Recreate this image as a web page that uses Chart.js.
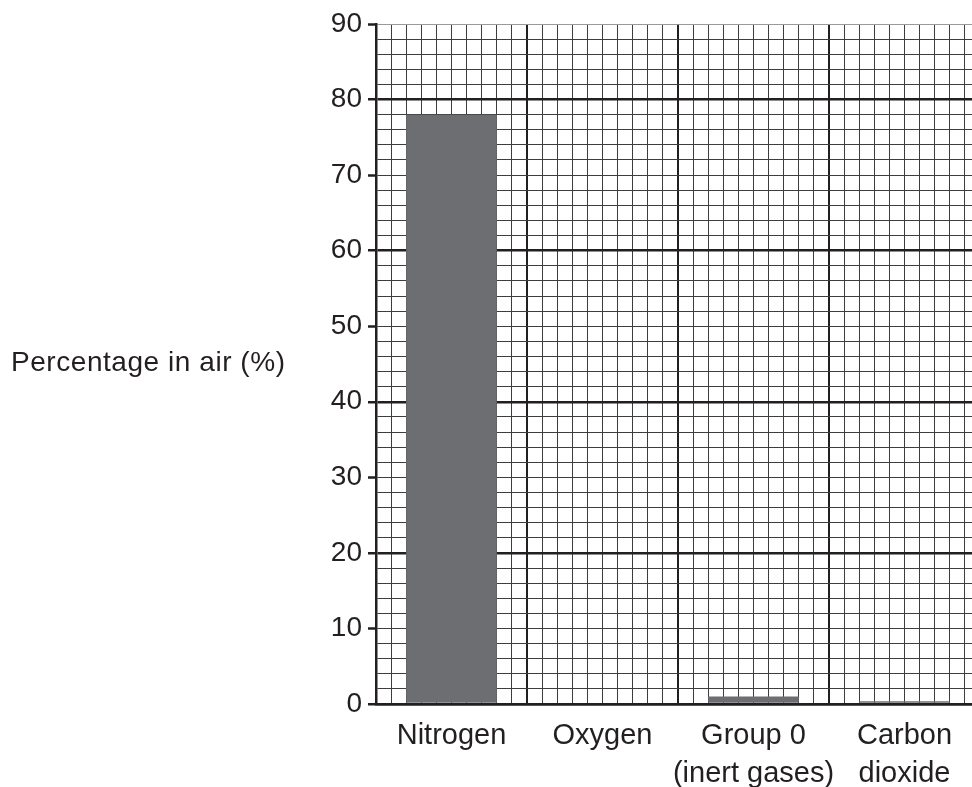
<!DOCTYPE html>
<html lang="en">
<head>
    <script src="https://cdn.jsdelivr.net/npm/chart.js"></script>
    <title>Percentage in air</title>
    <style>
        html, body {
            margin: 0;
            padding: 0;
            background: white;
            overflow: hidden;
        }
        .wrap {
            position: relative;
            width: 972px;
            height: 787px;
            overflow: hidden;
        }
        #chart {
            position: absolute;
            left: 0;
            top: 0;
        }
        #ylabel {
            position: absolute;
            left: 11px;
            top: 346px;
            font-family: "Liberation Sans", Arial, sans-serif;
            font-size: 28px;
            letter-spacing: 0.55px;
            color: #231f20;
            white-space: nowrap;
        }
    </style>
</head>
<body>
    <div class="wrap">
        <canvas id="chart" width="990" height="787"></canvas>
        <div id="ylabel">Percentage in air (%)</div>
    </div>
    <script>
        var gases = [["Nitrogen"], ["Oxygen"], ["Group 0", "(inert gases)"], ["Carbon", "dioxide"]];
        var percentages = [78, 0, 1, 0.35];

        var yMin = 0, yMax = 90, yStep = 2;
        var squaresPerGas = 10;

        var ink = "#231f20";
        var minorInk = "#3d3d3d";
        var fontFamily = "'Liberation Sans', Arial, sans-serif";

        // border context has no tick, so guard it
        function tv(c) { return c.tick ? c.tick.value : -1; }

        var ctx = document.getElementById("chart").getContext("2d");

        var chart = new Chart(ctx, {
            type: "bar",
            data: {
                labels: gases,
                datasets: [{
                    data: percentages,
                    backgroundColor: "#6d6e71",
                    borderWidth: 0,
                    barPercentage: 0.6,
                    categoryPercentage: 1
                }]
            },
            options: {
                responsive: false,
                animation: false,
                devicePixelRatio: 1,
                layout: { padding: { left: 0, right: 10, top: 24, bottom: 0 } },
                plugins: {
                    legend: { display: false },
                    tooltip: { enabled: false }
                },
                scales: {
                    x: {
                        type: "category",
                        position: "bottom",
                        grid: { display: false, drawTicks: false },
                        border: { display: true, color: ink, width: 2.5 },
                        ticks: {
                            color: ink,
                            font: { family: fontFamily, size: 29, lineHeight: 1.3 },
                            padding: 13,
                            maxRotation: 0,
                            autoSkip: false
                        },
                        afterFit: function(s) { s.height = 83; }
                    },
                    // graph paper columns: 10 small squares per gas
                    x2: {
                        type: "linear",
                        position: "top",
                        offset: false,
                        min: 0,
                        max: gases.length * squaresPerGas,
                        ticks: { display: false, stepSize: 1, autoSkip: false, maxTicksLimit: 200 },
                        border: { display: false },
                        grid: {
                            offset: false,
                            drawTicks: false,
                            color: function(c) {
                                return tv(c) % squaresPerGas === 0 ? ink : minorInk;
                            },
                            lineWidth: function(c) {
                                return tv(c) % squaresPerGas === 0 ? 2 : 1;
                            }
                        },
                        afterFit: function(s) { s.height = 0; }
                    },
                    y: {
                        type: "linear",
                        min: yMin,
                        max: yMax,
                        border: { display: true, color: ink, width: 2.5 },
                        grid: {
                            drawTicks: true,
                            tickLength: 8,
                            color: function(c) {
                                var v = tv(c);
                                if (v === yMax) return "#9a9a9a";
                                return v % 20 === 0 ? ink : minorInk;
                            },
                            lineWidth: function(c) {
                                var v = tv(c);
                                return v % 20 === 0 && v !== yMax ? 2.5 : 1;
                            },
                            tickColor: function(c) {
                                return tv(c) % 10 === 0 ? ink : "rgba(0,0,0,0)";
                            },
                            tickWidth: 2.5
                        },
                        ticks: {
                            stepSize: yStep,
                            autoSkip: false,
                            maxTicksLimit: 200,
                            color: ink,
                            font: { family: fontFamily, size: 28 },
                            padding: 6,
                            callback: function(v) { return v % 10 === 0 ? v : ""; }
                        },
                        afterFit: function(s) { s.width = 376; }
                    }
                }
            }
        });
    </script>
</body>
</html>
